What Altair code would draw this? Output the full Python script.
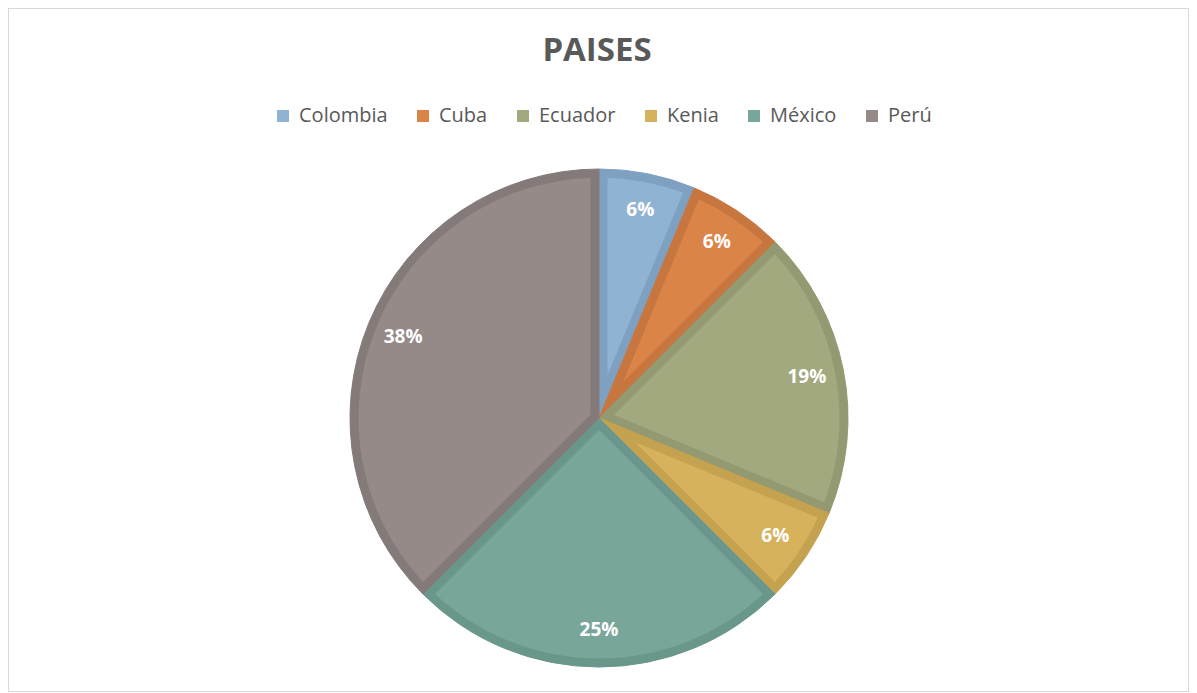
import altair as alt
import pandas as pd

# ---- data ----
paises = ["Colombia", "Cuba", "Ecuador", "Kenia", "México", "Perú"]
cantidades = [1, 1, 3, 1, 4, 6]
colores_relleno = ["#91B3D3", "#DB8447", "#A3A97E", "#D7B25C", "#79A69A", "#948A88"]
colores_borde = ["#7FA1C1", "#C8763F", "#939970", "#C4A250", "#6A978B", "#847A79"]
titulo = ["PAISES"]

df = pd.DataFrame({"pais": paises, "cantidad": cantidades, "orden": list(range(len(paises)))})

CX, CY = 591, 410   # pie centre in view coords
R = 249             # outer radius
B = 8.5             # inner border width

base = alt.Chart(df).transform_joinaggregate(
    total="sum(cantidad)"
).transform_calculate(
    pct="datum.cantidad / datum.total",
    ir=f"{B} / sin(PI * datum.cantidad / datum.total)",
).transform_calculate(
    pad=f"2 * asin({B} / sqrt(datum.ir * datum.ir + {R - B} * {R - B}))"
)

theta = alt.Theta("cantidad:Q", stack=True)
order = alt.Order("orden:Q", sort="ascending")

borde = base.mark_arc(radius=R).encode(
    theta=theta,
    order=order,
    color=alt.Color("pais:N", scale=alt.Scale(domain=paises, range=colores_borde), legend=None),
    stroke=alt.Stroke("pais:N", scale=alt.Scale(domain=paises, range=colores_borde), legend=None),
    x=alt.value(CX),
    y=alt.value(CY),
)

relleno = base.mark_arc(
    radius=R - B,
    innerRadius=alt.ExprRef(expr="datum.ir"),
    padAngle=alt.ExprRef(expr="datum.pad"),
).encode(
    theta=theta,
    order=order,
    color=alt.Color(
        "pais:N",
        scale=alt.Scale(domain=paises, range=colores_relleno),
        legend=alt.Legend(
            title=None,
            orient="none",
            legendX=265,
            legendY=98,
            direction="horizontal",
            symbolType="square",
            symbolSize=144,
            symbolStrokeWidth=0,
            symbolOpacity=1,
            labelFont="Open Sans",
            labelFontSize=20,
            labelColor="#595959",
            labelOffset=6,
            columnPadding=25,
            padding=0,
        ),
    ),
    x=alt.value(CX),
    y=alt.value(CY),
)

etiquetas = base.mark_text(
    radius=212, font="Open Sans", fontWeight="bold", fontSize=19, color="white"
).encode(
    theta=theta,
    order=order,
    text=alt.Text("pct:Q", format=".0%"),
    x=alt.value(CX),
    y=alt.value(CY),
)

tit = alt.Chart(pd.DataFrame({"t": titulo})).mark_text(
    font="Open Sans", fontWeight="bold", fontSize=33, color="#595959", baseline="middle"
).encode(text="t:N", x=alt.value(589), y=alt.value(43))

chart = alt.layer(borde, relleno, etiquetas, tit).resolve_scale(
    color="independent", stroke="independent"
).properties(
    width=1181, height=684, autosize=alt.AutoSizeParams(type="none"), padding=0
).configure_view(stroke="#D9D9D9", strokeWidth=2)

chart.save("out.html", embed_options={"renderer": "svg", "actions": False})
